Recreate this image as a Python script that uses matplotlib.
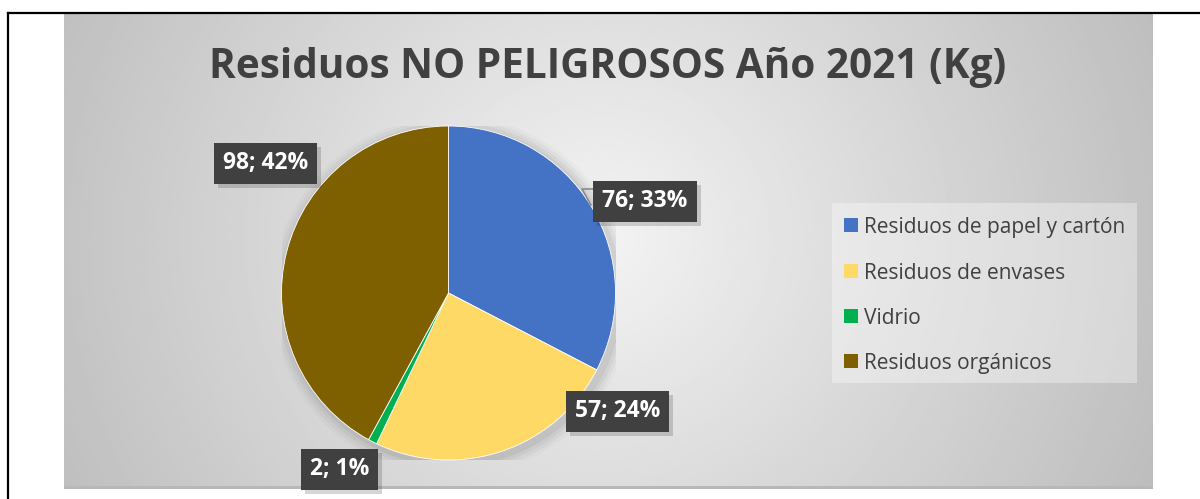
import numpy as np
import matplotlib
matplotlib.use("Agg")
import matplotlib.pyplot as plt
from matplotlib.patches import Rectangle
from matplotlib.lines import Line2D

# ---------------- data ----------------
title = "Residuos NO PELIGROSOS Año 2021 (Kg)"
categories = ["Residuos de papel y cartón", "Residuos de envases", "Vidrio", "Residuos orgánicos"]
values = [76, 57, 2, 98]
colors = ["#4472C4", "#FFD966", "#00B050", "#7F6000"]

W, H = 1200, 499
DPI = 100
fig = plt.figure(figsize=(W / DPI, H / DPI), dpi=DPI)
fig.patch.set_facecolor("white")

def fx(px):
    return px / W

def fy(py):
    return (H - py) / H

# outer frame lines
fig.add_artist(Line2D([fx(8), fx(1200)], [fy(12.5), fy(12.5)], color="black", lw=1.6))
fig.add_artist(Line2D([fx(8), fx(8)], [fy(12.5), fy(499)], color="black", lw=1.6))

# chart area with gradient background
cx0, cx1, cy0, cy1 = 64, 1153, 13, 489
bg = fig.add_axes([fx(cx0), fy(cy1), fx(cx1 - cx0), (cy1 - cy0) / H])
bg.set_axis_off()
nx, ny = 400, 200
xx, yy = np.meshgrid(np.linspace(-1, 1, nx), np.linspace(-1, 1, ny))
r = np.sqrt(((xx + 0.02) / 1.0) ** 2 + (0.45 * (yy + 0.05)) ** 2)
val = np.clip(0.955 - 0.19 * r, 0, 1)
bg.imshow(val, cmap="gray", vmin=0, vmax=1, aspect="auto", extent=[0, 1, 0, 1], origin="upper")
bg.set_xlim(0, 1)
bg.set_ylim(0, 1)
bg.add_patch(Rectangle((0, 0), 1, 0.006, transform=bg.transAxes, color="#b8b8b8", lw=0))

# title
t = fig.text(fx(608), fy(67), title, ha="center", va="center", fontsize=30,
             fontweight="bold", color="#404040", family="Open Sans")
fig.canvas.draw()
w = t.get_window_extent().width
t.set_fontsize(30 * 797 / w)

# pie
pcx, pcy, rad = 448.5, 293, 167
pax = fig.add_axes([fx(pcx - rad), fy(pcy + rad), 2 * rad / W, 2 * rad / H])
pax.set_axis_off()
# soft shadow
for k, a in enumerate([0.05, 0.04, 0.03, 0.02]):
    pax.add_patch(plt.Circle((0.02, -0.02), 1.0 + 0.02 * (k + 1), color="#000000", alpha=a, lw=0))
wedges, _ = pax.pie(values, colors=colors, startangle=90, counterclock=False, radius=1,
                    wedgeprops=dict(linewidth=0.6, edgecolor="white"))
pax.set_xlim(-1, 1)
pax.set_ylim(-1, 1)
pax.set_aspect("equal")

def d(px, py):
    return ((px - pcx) / rad, (pcy - py) / rad)

total = sum(values)
labels = [f"{v}; {round(100 * v / total)}%" for v in values]
label_pos = [(645, 201), (617.5, 411), (339.5, 469), (265.5, 163)]

# leader line for first label
pax.add_line(Line2D(*zip(d(593, 189), d(582, 189), d(591, 205)), color="#8c8c8c", lw=1.2,
                    clip_on=False, zorder=3))

renderer = fig.canvas.get_renderer()
for lab, (px, py) in zip(labels, label_pos):
    x, y = d(px, py)
    txt = pax.text(x, y, lab, ha="center", va="center", fontsize=16.5, fontweight="bold",
                   color="white", family="Open Sans", clip_on=False, zorder=5)
    tw = txt.get_window_extent(renderer).width
    bw, bh = tw + 18, 41
    # shadow box
    fig.add_artist(Rectangle((fx(px - bw / 2 + 4), fy(py + bh / 2 + 4)), fx(bw), bh / H,
                             transform=fig.transFigure, facecolor="black", alpha=0.16,
                             edgecolor="none", zorder=3))
    fig.add_artist(Rectangle((fx(px - bw / 2), fy(py + bh / 2)), fx(bw), bh / H,
                             transform=fig.transFigure, facecolor="#404040",
                             edgecolor="none", zorder=4))
    txt.remove()
    fig.text(fx(px), fy(py), lab, ha="center", va="center", fontsize=16.5, fontweight="bold",
             color="white", family="Open Sans", zorder=6)

# legend
lx0, lx1, ly0, ly1 = 832, 1137, 203, 383
fig.add_artist(Rectangle((fx(lx0), fy(ly1)), fx(lx1 - lx0), (ly1 - ly0) / H,
                         transform=fig.transFigure, facecolor="white", alpha=0.35, edgecolor="none"))
rows = [225, 271, 316, 361]
for cat, col, ry in zip(categories, colors, rows):
    fig.add_artist(Rectangle((fx(844), fy(ry + 7)), fx(14), 14 / H, transform=fig.transFigure,
                             facecolor=col, edgecolor="none"))
    fig.text(fx(864), fy(ry), cat, ha="left", va="center_baseline", fontsize=15,
             color="#404040", family="Open Sans")

fig.savefig("out.png", dpi=DPI, facecolor="white")
